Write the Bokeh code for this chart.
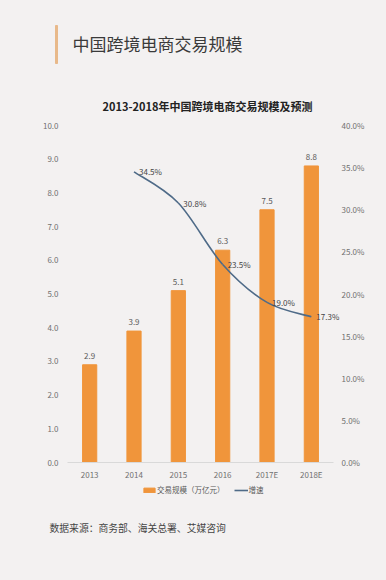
from bokeh.plotting import figure
from bokeh.layouts import column
from bokeh.models import (Range1d, LinearAxis, FixedTicker, PrintfTickFormatter,
                          Legend, LegendItem, ColumnDataSource)
from bokeh.core.properties import value
from bokeh.embed import file_html
from bokeh.resources import INLINE

# ---- data ----
categories = ["2013", "2014", "2015", "2016", "2017E", "2018E"]
scale_values = [2.9, 3.9, 5.1, 6.3, 7.5, 8.8]          # 交易规模（万亿元）
growth_categories = ["2014", "2015", "2016", "2017E", "2018E"]
growth_values = [34.5, 30.8, 23.5, 19.0, 17.3]         # 增速 (%)
left_ticks = [0, 1, 2, 3, 4, 5, 6, 7, 8, 9, 10]
right_ticks = [0, 5, 10, 15, 20, 25, 30, 35, 40]
title_text = "中国跨境电商交易规模"
subtitle_text = "2013-2018年中国跨境电商交易规模及预测"
source_text = "数据来源：商务部、海关总署、艾媒咨询"
legend_labels = ["交易规模（万亿元）", "增速"]

FONT = "Noto Sans CJK SC"
BG = "#f3f1f1"
ORANGE = "#f0953b"
LINE = "#4f6b88"
W = 386
H_HEAD, H_MAIN, H_FOOT = 118, 364, 98


def blank(h):
    f = figure(width=W, height=h, output_backend="svg", toolbar_location=None,
               x_range=Range1d(0, W), y_range=Range1d(h, 0),
               x_axis_location=None, y_axis_location=None,
               min_border=0, min_border_left=0, min_border_right=0,
               min_border_top=0, min_border_bottom=0)
    f.frame_align = False
    f.background_fill_color = BG
    f.border_fill_color = BG
    f.outline_line_color = None
    f.grid.visible = False
    return f


# ---- header ----
head = blank(H_HEAD)
head.quad(left=[55], right=[57], top=[25], bottom=[63], color="#e8b98a")
head.text(x=[72], y=[43], text=[title_text], text_font=value(FONT),
          text_font_size="17px", text_color="#3a3a3a", text_baseline="middle")
head.text(x=[207], y=[105], text=[subtitle_text], text_font=value(FONT),
          text_font_size="11px", text_font_style="bold", text_color="#222222",
          text_baseline="middle", text_align="center")

# ---- main chart ----
ncat = len(categories)
p = figure(width=W, height=H_MAIN, output_backend="svg", toolbar_location=None,
           x_range=Range1d(0, ncat + 0.18), y_range=Range1d(0, 10),
           min_border_left=67, min_border_right=45, min_border_top=7,
           min_border_bottom=18)
p.frame_align = False
p.background_fill_color = BG
p.border_fill_color = BG
p.outline_line_color = None
p.grid.visible = False

xpos = {c: i + 0.5 for i, c in enumerate(categories)}

bar_src = ColumnDataSource(dict(x=[xpos[c] for c in categories], top=scale_values,
                                lbl=[f"{v:.1f}" for v in scale_values]))
p.vbar(x="x", top="top", width=0.32, source=bar_src, color=ORANGE)
p.text(x="x", y="top", text="lbl", source=bar_src, text_align="center",
       text_baseline="middle", y_offset=-9, text_font=value(FONT),
       text_font_size="8px", text_color="#595959")

p.extra_y_ranges = {"pct": Range1d(0, 40)}

# smoothed growth line: cubic Bezier segments through the data points (Catmull-Rom)
gx = [xpos[c] for c in growth_categories]
gy = growth_values
n = len(gx)
x0, y0, x1, y1, cx0, cy0, cx1, cy1 = [], [], [], [], [], [], [], []
for i in range(n - 1):
    im1 = max(i - 1, 0)
    ip2 = min(i + 2, n - 1)
    x0.append(gx[i]); y0.append(gy[i]); x1.append(gx[i + 1]); y1.append(gy[i + 1])
    cx0.append(gx[i] + (gx[i + 1] - gx[im1]) / 6)
    cy0.append(gy[i] + (gy[i + 1] - gy[im1]) / 6)
    cx1.append(gx[i + 1] - (gx[ip2] - gx[i]) / 6)
    cy1.append(gy[i + 1] - (gy[ip2] - gy[i]) / 6)
p.bezier(x0=x0, y0=y0, x1=x1, y1=y1, cx0=cx0, cy0=cy0, cx1=cx1, cy1=cy1,
         line_color=LINE, line_width=1.6, y_range_name="pct")
g_src = ColumnDataSource(dict(x=gx, y=gy, lbl=[f"{v:.1f}%" for v in gy]))
p.text(x="x", y="y", text="lbl", source=g_src, y_range_name="pct",
       text_align="left", text_baseline="middle", x_offset=5,
       text_font=value(FONT), text_font_size="8px", text_color="#444444")

left = p.yaxis[0]
left.ticker = FixedTicker(ticks=left_ticks)
left.formatter = PrintfTickFormatter(format="%.1f")
right = LinearAxis(y_range_name="pct", ticker=FixedTicker(ticks=right_ticks),
                   formatter=PrintfTickFormatter(format="%.1f%%"))
p.add_layout(right, "right")
for ax in [left, right]:
    ax.axis_line_color = None
    ax.major_tick_line_color = None
    ax.minor_tick_line_color = None
    ax.major_tick_out = 0
    ax.major_tick_in = 0
    ax.major_label_text_font = FONT
    ax.major_label_text_font_size = "8px"
    ax.major_label_text_color = "#707070"
left.major_label_standoff = 9
right.major_label_standoff = 0

xa = p.xaxis[0]
xa.ticker = FixedTicker(ticks=[xpos[c] for c in categories])
xa.major_label_overrides = {xpos[c]: c for c in categories}
xa.bounds = (0, ncat)
xa.axis_line_color = "#d9d9d9"
xa.major_tick_line_color = None
xa.minor_tick_line_color = None
xa.major_tick_out = 0
xa.major_tick_in = 0
xa.major_label_standoff = 6
xa.major_label_text_font = FONT
xa.major_label_text_font_size = "8px"
xa.major_label_text_color = "#707070"

# ---- footer: legend + source ----
foot = blank(H_FOOT)
# legend entries reuse the chart's data sources (hidden here; only their legend swatches show)
key_bar = foot.vbar(x="x", top="top", width=0.32, source=bar_src, color=ORANGE,
                    visible=False)
key_line = foot.line(x="x", y="y", source=g_src, line_color=LINE, line_width=1.6,
                     visible=False)
legend = Legend(items=[LegendItem(label=legend_labels[0], renderers=[key_bar]),
                       LegendItem(label=legend_labels[1], renderers=[key_line])],
                orientation="horizontal", location=(142, 85),
                padding=0, margin=0, spacing=9, border_line_color=None,
                background_fill_alpha=0, inactive_fill_alpha=0,
                glyph_width=14, glyph_height=6,
                label_height=8, label_standoff=1,
                label_text_font=FONT, label_text_font_size="7.5px",
                label_text_color="#595959")
foot.add_layout(legend, "center")
foot.text(x=[49], y=[45], text=[source_text], text_font=value(FONT),
          text_font_size="9.8px", text_color="#444444", text_baseline="middle")

layout = column(head, p, foot, spacing=0, styles={"background-color": BG})
open("out.html", "w").write(file_html(layout, INLINE))
